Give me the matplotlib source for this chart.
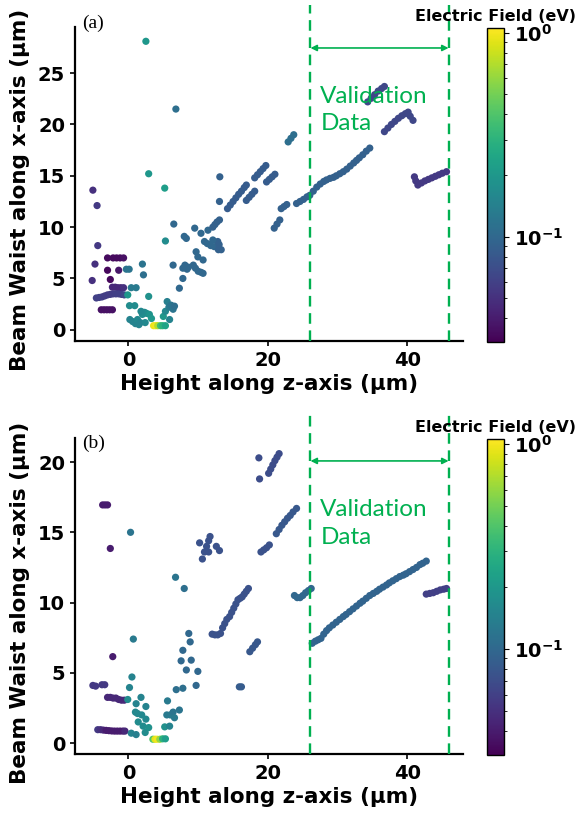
import numpy as np
import matplotlib
matplotlib.use("Agg")
import matplotlib.pyplot as plt
from matplotlib.colors import LogNorm
from matplotlib.ticker import FuncFormatter

# ---------------------------------------------------------------------------
# Data: (z = height along z-axis, w = beam waist along x-axis, e = field)
# ---------------------------------------------------------------------------

# ----- panel (a) -----
a_left_z = [-5.1, -4.5, -4.4, -4.8, -5.2,
            -3.0, -2.2, -1.7, -1.2, -0.7, -3.0, -1.4, -2.6,
            -2.3, -1.9, -1.5, -1.1, -0.7,
            -4.6, -4.2, -3.8, -3.4, -3.0, -2.6, -2.2, -1.8, -1.4, -1.0, -0.6,
            -3.9, -3.5, -3.1, -2.7, -2.3]
a_left_w = [13.6, 12.1, 8.2, 6.4, 4.8,
            7.0, 7.0, 7.0, 7.0, 7.0, 5.8, 5.8, 4.9,
            4.15, 4.15, 4.1, 4.1, 4.1,
            3.1, 3.15, 3.2, 3.3, 3.4, 3.45, 3.5, 3.5, 3.5, 3.45, 3.4,
            1.95, 1.95, 1.95, 1.95, 1.95]
a_left_e = [0.05, 0.055, 0.055, 0.05, 0.05,
            0.034, 0.034, 0.034, 0.034, 0.036, 0.033, 0.038, 0.033,
            0.045, 0.045, 0.045, 0.045, 0.05,
            0.06, 0.06, 0.06, 0.058, 0.058, 0.058, 0.058, 0.06, 0.06, 0.06, 0.065,
            0.036, 0.036, 0.036, 0.036, 0.036]

a_valley_z = [-0.1, 0.4, 1.1, 0.15, 0.9, -0.3, 0.1, 2.0, 2.15, 2.9,
              0.2, 0.6, 1.0, 1.3, 1.7, 2.0, 2.3, 2.6, 3.0, 2.4, 1.5, 3.3, 1.8,
              3.6, 3.9, 4.2, 4.6, 4.9, 5.3,
              5.0, 5.3, 5.55, 5.8, 6.1, 6.4, 5.9, 6.6]
a_valley_w = [3.4, 4.1, 4.1, 2.35, 2.35, 5.9, 5.9, 6.4, 5.35, 3.25,
              1.0, 0.8, 0.6, 1.0, 0.7, 1.5, 1.7, 1.6, 1.5, 0.7, 0.5, 1.1, 1.8,
              0.4, 0.4, 0.4, 0.4, 0.4, 0.4,
              1.3, 1.8, 2.75, 2.2, 2.4, 2.0, 1.0, 2.3]
a_valley_e = [0.2, 0.13, 0.13, 0.17, 0.17, 0.12, 0.12, 0.12, 0.11, 0.18,
              0.15, 0.15, 0.15, 0.16, 0.15, 0.17, 0.17, 0.17, 0.19, 0.16, 0.15, 0.2, 0.16,
              0.95, 1.0, 0.7, 0.35, 0.3, 0.24,
              0.2, 0.16, 0.14, 0.13, 0.12, 0.12, 0.15, 0.11]

a_rise_z = [2.5, 6.8, 2.9, 5.2, 13.1, 13.05, 6.5, 5.3, 6.4, 7.3, 7.8, 7.8,
            8.1, 8.4, 8.6, 8.0, 8.3, 9.5, 10.4, 11.4, 10.9, 11.3, 11.8, 12.3,
            9.7, 9.95, 10.7, 9.3, 9.6, 10.0, 10.4, 10.7, 12.8, 13.0, 13.3, 12.9,
            12.1, 12.1, 12.4, 12.7, 13.05]
a_rise_w = [28.1, 21.5, 15.2, 13.8, 14.9, 12.5, 10.3, 8.65, 6.3, 4.05, 5.0, 6.0,
            6.3, 5.9, 6.1, 9.1, 8.9, 9.9, 9.4, 9.7, 8.6, 8.4, 8.2, 8.1,
            7.6, 7.1, 6.8, 6.3, 6.0, 5.7, 5.6, 5.5, 8.6, 8.3, 7.8, 7.8,
            8.75, 10.0, 10.25, 10.5, 10.7]
a_rise_e = [0.2, 0.11, 0.2, 0.22, 0.09, 0.09, 0.1, 0.17, 0.1, 0.1, 0.1, 0.1,
            0.1, 0.1, 0.1, 0.1, 0.1, 0.1, 0.1, 0.1, 0.1, 0.1, 0.1, 0.1,
            0.1, 0.1, 0.1, 0.1, 0.1, 0.1, 0.1, 0.1, 0.09, 0.09, 0.09, 0.09,
            0.1, 0.09, 0.09, 0.09, 0.09]

# dense trails: (z list, w list, field)
a_trails = [
    ([14.2, 14.6, 15.0, 15.4, 15.8, 16.2, 16.6, 16.9],
     [11.8, 12.15, 12.5, 12.85, 13.2, 13.5, 13.85, 14.1], 0.085),
    ([16.9, 17.3, 17.7, 18.1], [12.6, 12.9, 13.2, 13.5], 0.085),
    ([18.1, 18.5, 18.9, 19.3, 19.7], [14.8, 15.1, 15.4, 15.7, 16.0], 0.085),
    ([19.8, 20.2, 20.6, 21.0], [14.4, 14.65, 14.9, 15.15], 0.085),
    ([22.9, 23.3, 23.7], [18.3, 18.65, 19.0], 0.11),
    ([20.9, 21.3, 21.7], [9.9, 10.3, 10.7], 0.09),
    ([21.9, 22.3, 22.7], [11.8, 12.0, 12.2], 0.09),
    ([24.1, 24.6, 25.1, 25.6, 26.0, 26.5, 27.0, 27.5, 28.0, 28.4, 28.9, 29.4,
      29.8, 30.3, 30.8, 31.3, 31.8, 32.3, 32.7, 33.1, 33.6, 34.1, 34.6],
     [12.3, 12.5, 12.7, 12.95, 13.1, 13.5, 13.9, 14.2, 14.45, 14.6, 14.75, 14.85,
      15.0, 15.2, 15.4, 15.65, 15.95, 16.25, 16.5, 16.75, 17.05, 17.4, 17.7], 0.09),
    ([36.7, 37.2, 37.7, 38.2, 38.7, 39.2, 39.7, 40.1, 40.4, 40.8],
     [19.3, 19.65, 20.0, 20.3, 20.6, 20.85, 21.05, 21.2, 20.8, 20.4], 0.065),
    ([34.3, 34.8, 35.3, 35.8, 36.3, 36.7], [22.2, 22.55, 22.9, 23.25, 23.5, 23.7], 0.065),
    ([41.0, 41.2, 41.5, 42.0, 42.5, 43.0, 43.5, 44.0, 44.5, 45.0, 45.6],
     [14.9, 14.5, 14.1, 14.3, 14.5, 14.65, 14.8, 14.95, 15.1, 15.25, 15.4], 0.055),
]

# ----- panel (b) -----
b_left_z = [-3.7, -3.35, -3.0, -2.6, -2.25,
            -5.1, -4.7, -3.8, -3.4,
            -3.0, -2.6, -2.2, -1.8, -1.4, -1.0, -0.6,
            -4.4, -4.0, -3.6, -3.2, -2.8, -2.4, -2.0, -1.6, -1.2, -0.8, -0.5]
b_left_w = [16.95, 16.95, 16.95, 13.85, 6.15,
            4.1, 4.05, 4.15, 4.15,
            3.25, 3.25, 3.2, 3.2, 3.1, 3.05, 3.05,
            0.95, 0.95, 0.92, 0.9, 0.88, 0.86, 0.85, 0.85, 0.85, 0.85, 0.85]
b_left_e = [0.04, 0.04, 0.04, 0.04, 0.04,
            0.055, 0.055, 0.055, 0.055,
            0.045, 0.045, 0.045, 0.045, 0.045, 0.045, 0.045,
            0.055, 0.05, 0.045, 0.04, 0.04, 0.04, 0.04, 0.04, 0.04, 0.04, 0.045]

b_valley_z = [-0.1, 0.5, 0.15, 0.7, 1.8, 1.1, 2.5, 1.0, 1.3, 1.9, 2.5, 1.4, 2.1,
              0.4, 1.1, 2.4, 2.9,
              3.5, 3.8, 4.1, 4.5, 4.9, 5.3,
              5.2, 5.6, 5.5, 6.0, 6.4, 6.6, 5.9, 6.85, 7.3, 7.8]
b_valley_w = [3.1, 4.7, 3.95, 7.4, 3.25, 2.8, 2.6, 2.2, 2.1, 2.0, 1.7, 1.5, 1.2,
              0.7, 0.6, 0.75, 1.1,
              0.27, 0.27, 0.27, 0.27, 0.3, 0.3,
              1.15, 3.0, 2.0, 2.0, 2.2, 1.8, 1.2, 3.8, 2.35, 3.9]
b_valley_e = [0.17, 0.15, 0.15, 0.13, 0.15, 0.15, 0.15, 0.16, 0.16, 0.16, 0.16, 0.17, 0.17,
              0.15, 0.14, 0.17, 0.18,
              0.4, 0.9, 1.0, 0.6, 0.3, 0.22,
              0.18, 0.13, 0.13, 0.13, 0.12, 0.13, 0.15, 0.11, 0.12, 0.11]

b_rise_z = [0.3, 6.75, 8.0, 8.65, 8.85, 7.8, 7.55, 8.3, 9.0, 9.95, 9.7,
            15.9, 16.2]
b_rise_w = [15.0, 11.8, 11.0, 7.8, 7.2, 6.6, 5.85, 5.2, 5.9, 5.1, 4.1,
            4.0, 4.0]
b_rise_e = [0.12, 0.12, 0.11, 0.1, 0.1, 0.1, 0.1, 0.1, 0.1, 0.1, 0.1,
            0.085, 0.085]

b_trails = [
    ([12.0, 12.4, 12.8, 13.2, 13.5, 13.8, 14.1, 14.5, 14.8, 15.1, 15.4, 15.7,
      16.0, 16.3, 16.6, 16.9, 17.2],
     [7.75, 7.7, 7.7, 7.8, 8.2, 8.5, 8.8, 9.0, 9.3, 9.6, 9.9, 10.2,
      10.3, 10.4, 10.6, 10.8, 11.0], 0.075),
    ([17.4, 17.8, 18.2, 18.5], [6.5, 6.75, 7.0, 7.2], 0.08),
    ([10.2, 10.6, 10.9, 11.2, 11.5, 11.7, 11.5, 12.6, 13.05],
     [14.25, 13.1, 13.6, 14.0, 14.4, 14.7, 13.6, 14.0, 13.7], 0.075),
    ([19.0, 19.4, 19.8, 20.2], [13.6, 13.75, 13.9, 14.1], 0.075),
    ([21.2, 21.6, 22.0, 22.4, 22.8, 23.2, 23.6, 24.1],
     [14.9, 15.2, 15.5, 15.75, 16.0, 16.2, 16.45, 16.7], 0.08),
    ([18.7, 18.8, 20.1, 20.4, 20.7, 21.0, 21.3, 21.6],
     [20.3, 18.8, 19.2, 19.5, 19.8, 20.1, 20.35, 20.6], 0.07),
    ([23.8, 24.2, 24.6, 25.0, 25.4, 25.8, 26.2],
     [10.5, 10.35, 10.35, 10.5, 10.7, 10.85, 11.0], 0.1),
    ([26.35, 26.8, 27.2, 27.6, 28.0, 28.4, 28.8, 29.3, 29.8, 30.3, 30.8, 31.2,
      31.7, 32.2, 32.7, 33.2, 33.6, 34.1, 34.6, 35.1, 35.6, 36.0, 36.5, 37.0,
      37.4, 37.9, 38.4, 38.9, 39.4, 39.8, 40.3, 40.8, 41.3, 41.8, 42.2, 42.7],
     [7.1, 7.25, 7.35, 7.45, 7.75, 8.0, 8.2, 8.4, 8.6, 8.8, 9.0, 9.15,
      9.35, 9.55, 9.75, 9.95, 10.1, 10.3, 10.5, 10.65, 10.8, 10.95, 11.1, 11.25,
      11.4, 11.55, 11.7, 11.85, 11.95, 12.05, 12.2, 12.35, 12.5, 12.7, 12.8, 12.95], 0.095),
    ([42.7, 43.2, 43.7, 44.2, 44.7, 45.2, 45.6],
     [10.6, 10.65, 10.7, 10.8, 10.9, 10.95, 11.0], 0.06),
]

# validation window (z range) and axis limits
VAL_START, VAL_END = 26.1, 45.9
X_LIM = (-7.7, 47.9)
A_YLIM = (-1.1, 29.5)
B_YLIM = (-0.78, 21.7)
A_YTICKS = [0, 5, 10, 15, 20, 25]
B_YTICKS = [0, 5, 10, 15, 20]
X_TICKS = [0, 20, 40]
E_MIN, E_MAX = 0.0305, 1.06

GREEN = "#00b050"


def collect(groups, trails):
    zs, ws, es = [], [], []
    for z, w, e in groups:
        zs += list(z); ws += list(w); es += list(e)
    for z, w, e in trails:
        zs += list(z); ws += list(w); es += [e] * len(z)
    return np.array(zs), np.array(ws), np.array(es)


def bold_pow10(v, _pos):
    return r"$\mathbf{10^{%d}}$" % int(round(np.log10(v)))


def draw_panel(fig, rect, cbar_rect, groups, trails, ylim, yticks, tag,
               tag_y, line_top, arrow_y):
    ax = fig.add_axes(rect)
    z, w, e = collect(groups, trails)
    sc = ax.scatter(z, w, c=e, cmap="viridis", norm=LogNorm(vmin=E_MIN, vmax=E_MAX),
                    s=27, linewidths=0, zorder=3)
    ax.set_xlim(*X_LIM)
    ax.set_ylim(*ylim)
    ax.set_xticks(X_TICKS)
    ax.set_yticks(yticks)
    for side in ("top", "right"):
        ax.spines[side].set_visible(False)
    for side in ("left", "bottom"):
        ax.spines[side].set_linewidth(1.6)
    ax.tick_params(labelsize=14, width=1.2)
    for lab in ax.get_xticklabels() + ax.get_yticklabels():
        lab.set_fontweight("bold")
    ax.set_xlabel("Height along z-axis (μm)", fontsize=15.5, fontweight="bold")
    ax.set_ylabel("Beam Waist along x-axis (μm)", fontsize=15.5, fontweight="bold")
    ax.xaxis.set_label_coords(0.5, -0.105)
    ax.yaxis.set_label_coords(-0.115, 0.48)

    # validation window
    for xv in (VAL_START, VAL_END):
        ax.axvline(xv, ymin=0, ymax=line_top, color=GREEN, lw=1.7,
                   ls=(0, (4.5, 2.8)), clip_on=False, zorder=4)
    ax.annotate("", xy=(VAL_END, arrow_y), xytext=(VAL_START, arrow_y),
                xycoords=("data", "axes fraction"), textcoords=("data", "axes fraction"),
                arrowprops=dict(arrowstyle="<|-|>", color=GREEN, lw=1.2,
                                mutation_scale=9, shrinkA=0, shrinkB=0))
    ax.text(VAL_START + 1.4, arrow_y - 0.12, "Validation\nData",
            transform=ax.get_xaxis_transform(), color=GREEN, fontsize=17.5,
            family="Lato", va="top", ha="left", linespacing=1.4)
    ax.text(0.02, tag_y, tag, transform=ax.transAxes, family="Liberation Serif",
            fontsize=14, va="center", ha="left")

    cax = fig.add_axes(cbar_rect)
    cb = fig.colorbar(sc, cax=cax)
    cb.outline.set_linewidth(1.0)
    cb.ax.yaxis.set_major_formatter(FuncFormatter(bold_pow10))
    cb.ax.tick_params(labelsize=14)
    cb.ax.set_title("Electric Field (eV)", fontsize=11.5, fontweight="bold", pad=5)
    return ax


fig = plt.figure(figsize=(5.84, 8.16), dpi=100)

draw_panel(fig, [0.128, 0.582, 0.664, 0.385], [0.834, 0.581, 0.029, 0.385],
           [(a_left_z, a_left_w, a_left_e), (a_valley_z, a_valley_w, a_valley_e),
            (a_rise_z, a_rise_w, a_rise_e)],
           a_trails, A_YLIM, A_YTICKS, "(a)", 1.01, 1.07, 0.933)
draw_panel(fig, [0.128, 0.076, 0.664, 0.387], [0.834, 0.075, 0.029, 0.387],
           [(b_left_z, b_left_w, b_left_e), (b_valley_z, b_valley_w, b_valley_e),
            (b_rise_z, b_rise_w, b_rise_e)],
           b_trails, B_YLIM, B_YTICKS, "(b)", 0.985, 1.08, 0.928)

fig.savefig("out.png", dpi=100)
